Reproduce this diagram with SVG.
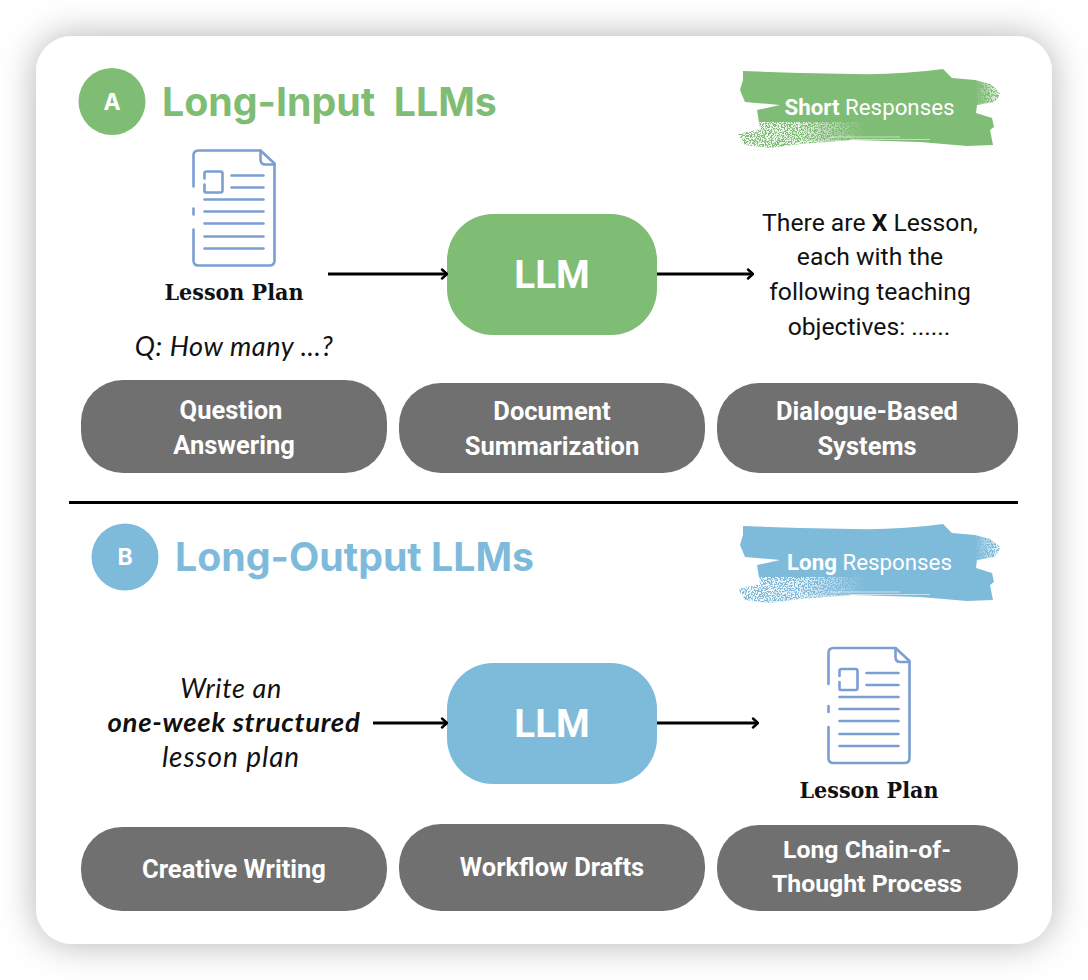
<svg xmlns="http://www.w3.org/2000/svg" xmlns:xlink="http://www.w3.org/1999/xlink" width="1088" height="980" viewBox="0 0 1088 980">
<style>
.pill{fill:#707070}
.pt{font-family:Roboto,sans-serif;font-weight:700;font-size:25.500px;fill:#fff;text-anchor:middle}
.title{font-family:Inter,sans-serif;font-weight:700;font-size:39.300px}
.badge{font-family:Inter,sans-serif;font-weight:700;font-size:23px;fill:#fff;text-anchor:middle}
.llm{font-family:Roboto,sans-serif;font-weight:700;font-size:38.500px;fill:#fff;text-anchor:middle}
.brush{font-family:Roboto,sans-serif;font-size:22.300px;fill:#fff;text-anchor:middle}
.body{font-family:Roboto,sans-serif;font-size:24.700px;fill:#111;text-anchor:middle}
.ital{font-family:Lato,sans-serif;font-style:italic;font-size:27px;letter-spacing:.6px;fill:#111;text-anchor:middle}
.lp{font-family:"DejaVu Serif Condensed","DejaVu Serif",serif;font-weight:700;font-size:23px;fill:#111;text-anchor:middle}
.conn{stroke:#000;stroke-width:3;fill:none;marker-end:url(#arrow)}
.ic{fill:none;stroke:#7b9ed3;stroke-width:2.6;stroke-linecap:round;stroke-linejoin:round}
.g{fill:#7fbc74}.b{fill:#7ebbdb}
</style>
<defs>
<filter id="shadow" x="-10%" y="-10%" width="120%" height="120%"><feDropShadow dx="0" dy="0" stdDeviation="18" flood-color="#000" flood-opacity="0.3"/></filter>
<filter id="rough" x="-5%" y="-10%" width="110%" height="120%"><feTurbulence type="fractalNoise" baseFrequency="0.3" numOctaves="2" seed="4"/><feDisplacementMap in="SourceGraphic" scale="1.500"/></filter>
<filter id="speck" x="0" y="0" width="100%" height="100%"><feTurbulence type="fractalNoise" baseFrequency="0.7" numOctaves="2" seed="7"/><feColorMatrix values="0 0 0 0 1 0 0 0 0 1 0 0 0 0 1 0 0 0 10 -4.400"/><feComposite in2="SourceAlpha" operator="in"/></filter>
<linearGradient id="fade" x1="0" x2="1" y1="0" y2="0"><stop offset="0" stop-color="#fff"/><stop offset=".5" stop-color="#fff" stop-opacity=".8"/><stop offset="1" stop-color="#fff" stop-opacity="0"/></linearGradient>
<linearGradient id="fadeR" x1="0" x2="1" y1="0" y2="0"><stop offset="0" stop-color="#fff" stop-opacity="0"/><stop offset="1" stop-color="#fff"/></linearGradient>
<marker id="arrow" viewBox="0 0 10 12" refX="9" refY="6" markerUnits="userSpaceOnUse" markerWidth="10" markerHeight="12" orient="auto"><path d="M4 1.500 L9 6 L4 10.500" fill="none" stroke="#000" stroke-width="2.400" stroke-linecap="round" stroke-linejoin="round"/></marker>
<g id="doc">
<path class="ic" d="M0 30V5Q0 0 5 0H67L81 13V110Q81 115 76 115H5Q0 115 0 110V79M0 64V58M0 36V30"/>
<path class="ic" d="M67 0V9Q67 14 72 14H81"/>
<path class="ic" d="M11 34V41Q11 42 12 42H27Q29 42 29 40V23Q29 21 27 21H13Q11 21 11 23V28"/>
<path class="ic" d="M38 25H70M38 37H70M11 49H70M11 61H70M11 73H70M11 86H70M11 98H70"/>
</g>
<path id="stroke" d="M743 71L800 73L853 74Q900 75 943 69L952 78L975 80L990 84L1000 92L998 98L994 102L977 105L976 113L992 118L994 127L990 130L993 145L967 146L920 142L853 140L800 144L770 148L745 145L738 134L760 129L757 110L780 105L745 102L740 90L743 80Z"/>
<g id="streaks" fill="none" stroke="#fff" stroke-width=".8" opacity=".7"><path d="M830 137H900M850 139.500H930M800 141H860"/></g>
</defs>
<rect width="1088" height="980" fill="#fff"/>
<rect x="36" y="36" width="1016" height="908" rx="36" fill="#fff" filter="url(#shadow)"/>

<g id="section-a-header">
<circle cx="112" cy="101.500" r="33.500" class="g"/>
<text x="112" y="110" class="badge">A</text>
<text x="162" y="116" class="title" fill="#7fbc74" xml:space="preserve">Long-Input  LLMs</text>
</g>
<g id="brush-a">
<use xlink:href="#stroke" class="g" filter="url(#rough)"/>
<rect x="736" y="122" width="130" height="28" fill="url(#fade)" filter="url(#speck)"/>
<rect x="975" y="78" width="27" height="26" fill="url(#fadeR)" filter="url(#speck)"/>
<use xlink:href="#streaks"/>
<text x="869.500" y="115" class="brush"><tspan font-weight="700">Short</tspan> Responses</text>
</g>
<g id="doc-a"><use xlink:href="#doc" x="193.500" y="150.500"/></g>
<g id="lesson-plan-a"><text x="234" y="300" class="lp">Lesson Plan</text></g>
<g id="question"><text x="234" y="356" class="ital">Q: How many ...?</text></g>
<g id="llm-a"><rect x="447" y="214" width="210" height="121" rx="46" class="g"/><text x="552" y="288" class="llm">LLM</text></g>
<g id="answer-a"><text class="body"><tspan x="870" y="231">There are <tspan font-weight="700">X</tspan> Lesson,</tspan><tspan x="870" y="265">each with the</tspan><tspan x="870" y="300">following teaching</tspan><tspan x="869" y="335">objectives: ......</tspan></text></g>
<g id="pill-qa"><rect x="81" y="380" width="306" height="93" rx="42" class="pill"/><text class="pt"><tspan x="231" y="418.500">Question</tspan><tspan x="234" y="453.500">Answering</tspan></text></g>
<g id="pill-ds"><rect x="399" y="383" width="306" height="90" rx="42" class="pill"/><text class="pt"><tspan x="552" y="419.500">Document</tspan><tspan x="552" y="454.500">Summarization</tspan></text></g>
<g id="pill-db"><rect x="717" y="383" width="301" height="90" rx="42" class="pill"/><text class="pt"><tspan x="867" y="419.500">Dialogue-Based</tspan><tspan x="867" y="454.500">Systems</tspan></text></g>

<g id="section-b-header">
<circle cx="125" cy="557" r="33.500" class="b"/>
<text x="125" y="565" class="badge">B</text>
<text x="175" y="571" class="title" fill="#7ebbdb">Long-Output LLMs</text>
</g>
<g id="brush-b">
<use xlink:href="#stroke" y="455" class="b" filter="url(#rough)"/>
<rect x="736" y="577" width="130" height="28" fill="url(#fade)" filter="url(#speck)"/>
<rect x="975" y="533" width="27" height="26" fill="url(#fadeR)" filter="url(#speck)"/>
<use xlink:href="#streaks" y="455"/>
<text x="869.500" y="570" class="brush"><tspan font-weight="700">Long</tspan> Responses</text>
</g>
<g id="prompt"><text class="ital"><tspan x="231" y="698">Write an</tspan><tspan x="234" y="732" font-weight="700" font-size="27.500" letter-spacing=".7">one-week structured</tspan><tspan x="231" y="767" font-size="28" letter-spacing=".9">lesson plan</tspan></text></g>
<g id="llm-b"><rect x="447" y="663" width="210" height="121" rx="46" class="b"/><text x="552" y="737" class="llm">LLM</text></g>
<g id="doc-b"><use xlink:href="#doc" x="828.500" y="648"/></g>
<g id="lesson-plan-b"><text x="869" y="798" class="lp">Lesson Plan</text></g>
<g id="pill-cw"><rect x="81" y="827" width="306" height="84" rx="41" class="pill"/><text x="234" y="877.500" class="pt">Creative Writing</text></g>
<g id="pill-wd"><rect x="399" y="824" width="306" height="87" rx="42" class="pill"/><text x="552" y="875.500" class="pt">Workflow Drafts</text></g>
<g id="pill-cot"><rect x="717" y="825" width="301" height="86" rx="42" class="pill"/><text class="pt"><tspan x="867" y="858" style="font-size:24.800px">Long Chain-of-</tspan><tspan x="867" y="892" style="font-size:24.800px">Thought Process</tspan></text></g>

<g id="connectors">
<line x1="328" y1="274" x2="447" y2="274" class="conn"/>
<line x1="657" y1="274" x2="753" y2="274" class="conn"/>
<line x1="373" y1="723" x2="447" y2="723" class="conn"/>
<line x1="657" y1="723" x2="758" y2="723" class="conn"/>
</g>
<line id="divider" x1="69" y1="502.500" x2="1018" y2="502.500" stroke="#000" stroke-width="3"/>
</svg>
